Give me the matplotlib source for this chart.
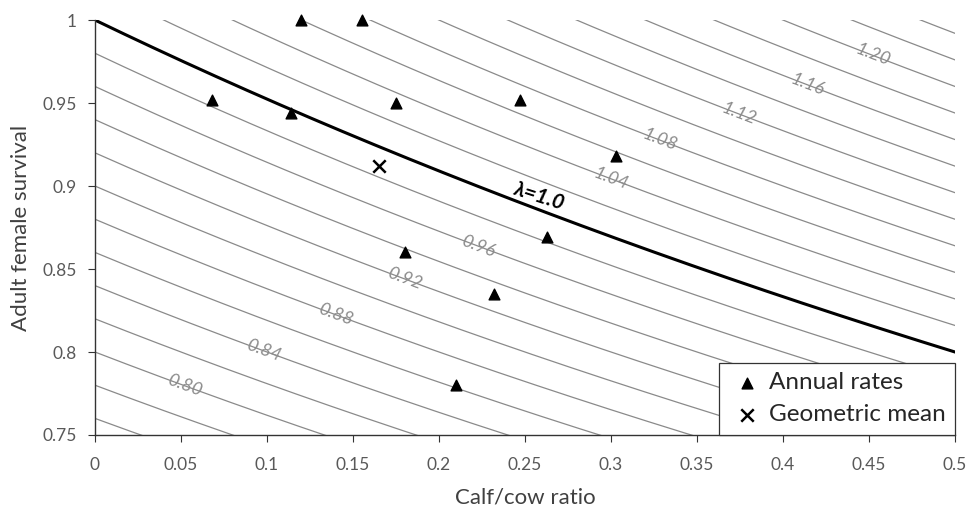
import numpy as np
import matplotlib.pyplot as plt

# annual calf/cow ratio and adult female survival
calf_cow = [0.068, 0.114, 0.120, 0.155, 0.175, 0.247, 0.303, 0.263, 0.180, 0.232, 0.210]
survival = [0.952, 0.944, 1.000, 1.000, 0.950, 0.952, 0.918, 0.869, 0.860, 0.835, 0.780]
geo_mean = (0.165, 0.912)

# lambda isolines and where their labels sit along the x axis
iso_levels = [0.76, 0.78, 0.80, 0.82, 0.84, 0.86, 0.88, 0.90, 0.92, 0.94, 0.96, 0.98,
              1.02, 1.04, 1.06, 1.08, 1.10, 1.12, 1.14, 1.16, 1.18, 1.20, 1.22, 1.24]
label_levels = [0.80, 0.84, 0.88, 0.92, 0.96, 1.04, 1.08, 1.12, 1.16, 1.20]
label_x = [0.052, 0.098, 0.140, 0.180, 0.223, 0.300, 0.328, 0.374, 0.414, 0.452]


def surv(lam, r):
    return lam / (1 + r / 2)


plt.rcParams['font.family'] = ['Lato', 'DejaVu Sans']
fig = plt.figure(figsize=(9.66, 5.14), dpi=100)
ax = fig.add_axes([0.0983, 0.1537, 0.8903, 0.8073])

r = np.linspace(0, 0.5, 300)
for lam in iso_levels:
    ax.plot(r, surv(lam, r), color='#8a8a8a', lw=0.9, zorder=1)
ax.plot(r, surv(1.0, r), color='black', lw=2.2, zorder=2)

ax.set_xlim(0, 0.5)
ax.set_ylim(0.75, 1.0)
fig.canvas.draw()


def angle_at(lam, x):
    p1 = ax.transData.transform((x - 0.01, surv(lam, x - 0.01)))
    p2 = ax.transData.transform((x + 0.01, surv(lam, x + 0.01)))
    return np.degrees(np.arctan2(p2[1] - p1[1], p2[0] - p1[0]))


for lam, x in zip(label_levels, label_x):
    ax.text(x, surv(lam, x), '%.2f' % lam, color='#8c8c8c', fontsize=13,
            style='italic', ha='center', va='center',
            rotation=angle_at(lam, x), rotation_mode='anchor', zorder=3)

ax.text(0.258, surv(1.0, 0.258) + 0.008, 'λ=1.0', color='black', fontsize=15,
        style='italic', fontweight='bold', ha='center', va='center',
        rotation=angle_at(1.0, 0.258) + 3, rotation_mode='anchor', zorder=3)

ax.scatter(calf_cow, survival, marker='^', s=60, color='black', zorder=4,
           label='Annual rates', clip_on=False)
ax.scatter([geo_mean[0]], [geo_mean[1]], marker='x', s=80, color='black',
           linewidths=1.8, zorder=4, label='Geometric mean')

ax.set_xticks([0, 0.05, 0.1, 0.15, 0.2, 0.25, 0.3, 0.35, 0.4, 0.45, 0.5])
ax.set_xticklabels(['0', '0.05', '0.1', '0.15', '0.2', '0.25', '0.3', '0.35', '0.4', '0.45', '0.5'])
ax.set_yticks([0.75, 0.8, 0.85, 0.9, 0.95, 1.0])
ax.set_yticklabels(['0.75', '0.8', '0.85', '0.9', '0.95', '1'])
ax.tick_params(colors='#333333', labelcolor='#595959', labelsize=12.5, length=5, width=0.8)
ax.tick_params(axis='x', pad=11)
ax.tick_params(axis='y', pad=8)

for side in ['top', 'right']:
    ax.spines[side].set_visible(False)
for side in ['left', 'bottom']:
    ax.spines[side].set_color('#333333')
    ax.spines[side].set_linewidth(1.0)

ax.set_xlabel('Calf/cow ratio', fontsize=16, color='#404040', labelpad=10)
ax.set_ylabel('Adult female survival', fontsize=16, color='#404040', labelpad=8)

leg = ax.legend(loc='lower right', fontsize=17.5, frameon=True, fancybox=False,
                handletextpad=0.15, handlelength=1.5, borderpad=0.4,
                labelspacing=0.45, borderaxespad=0.0)
leg.get_frame().set_edgecolor('#333333')
leg.get_frame().set_linewidth(0.9)
leg.get_frame().set_alpha(1)
for t in leg.get_texts():
    t.set_color('#262626')

fig.savefig('out.png', dpi=100)
